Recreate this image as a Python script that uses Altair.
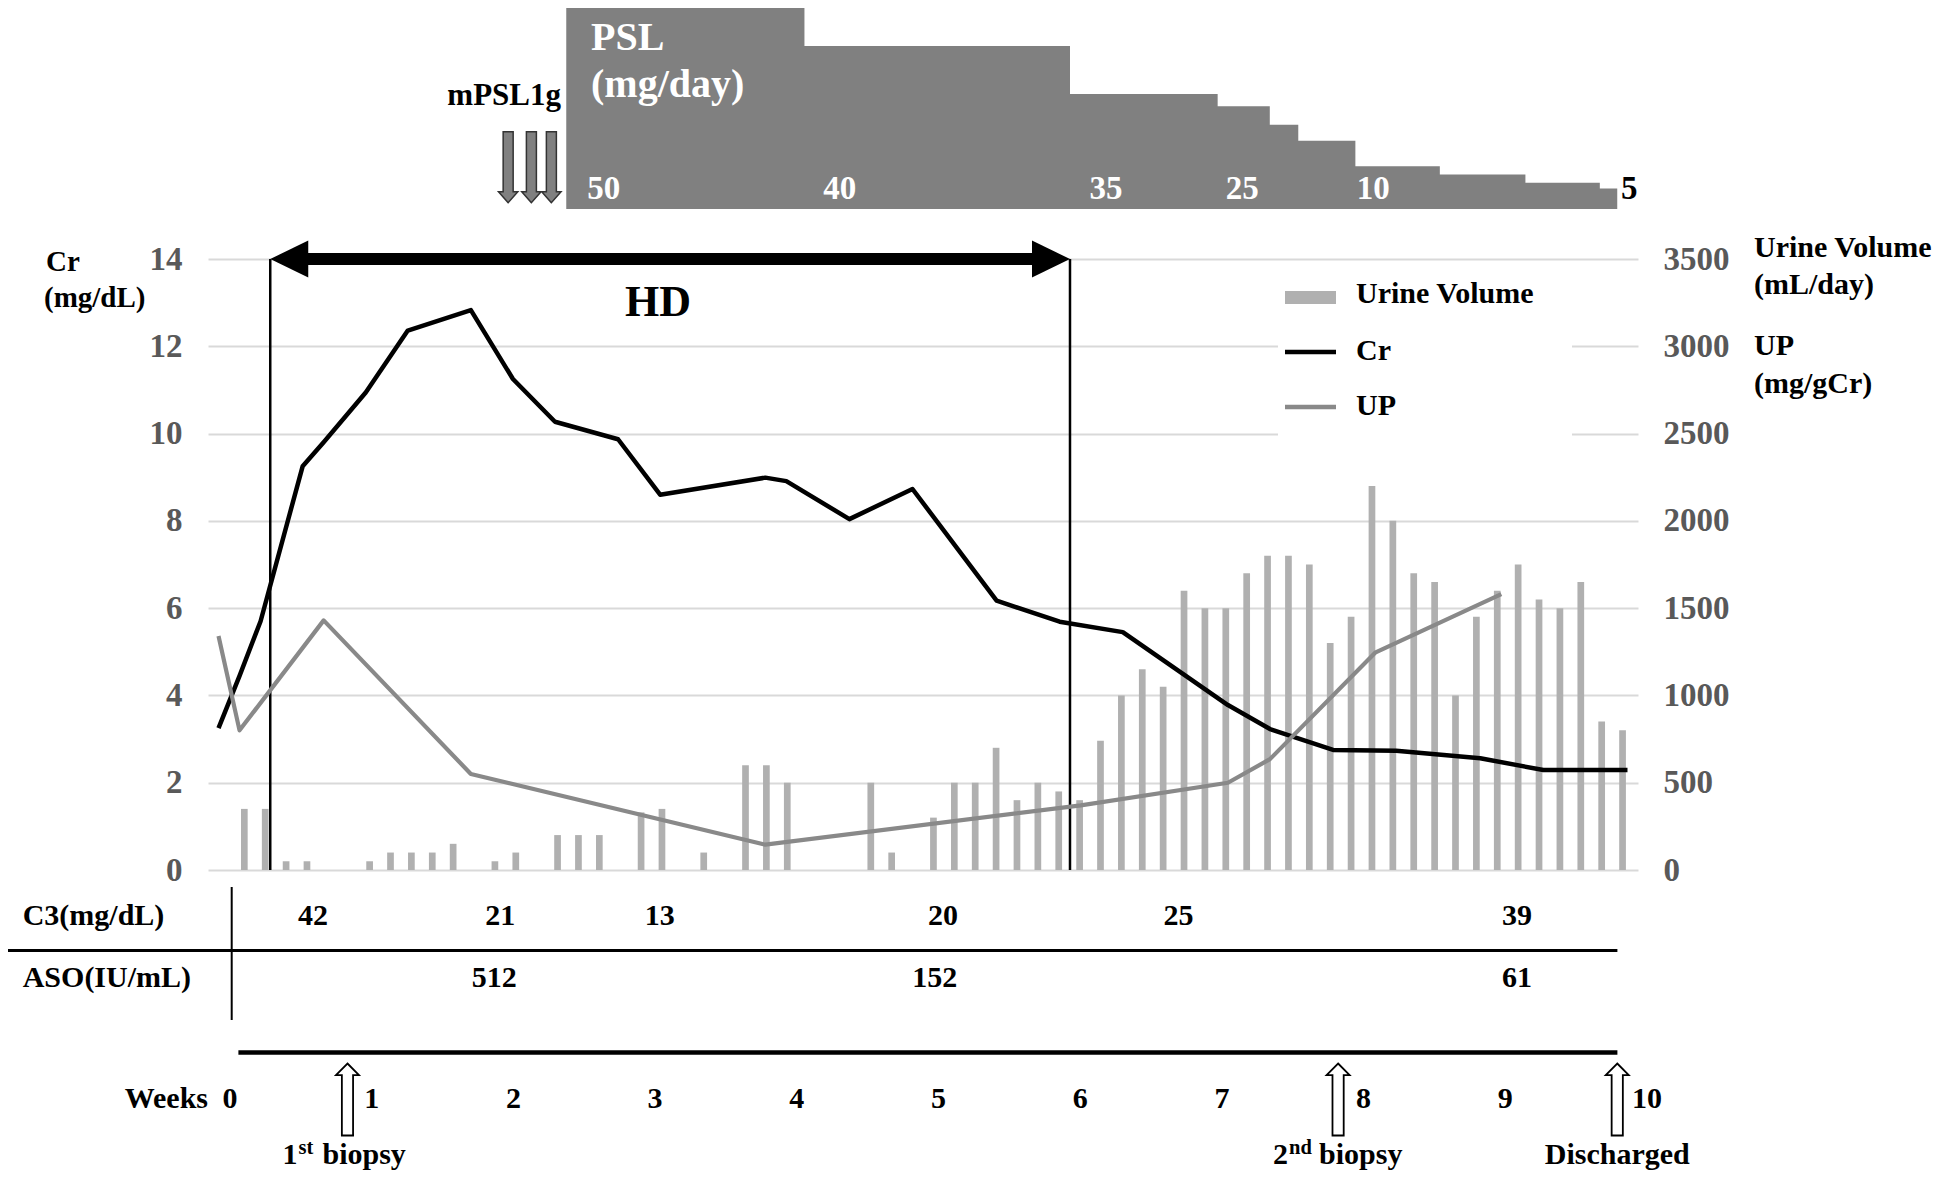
import altair as alt
import pandas as pd

# ---------------- data ----------------
DAY = list(range(68))
URINE_VOLUME = [None, 350, 350, 50, 50, None, None, 50, 100, 100, 100, 150, None, 50, 100, None,
                200, 200, 200, None, 330, 350, None, 100, None, 600, 600, 500, None, None, None, 500,
                100, None, 300, 500, 500, 700, 400, 500, 450, 400, 740, 1000, 1150, 1050, 1600, 1500,
                1500, 1700, 1800, 1800, 1750, 1300, 1450, 2200, 2000, 1700, 1650, 1000, 1450, 1600, 1750,
                1550, 1500, 1650, 850, 800]

CR_DAY = [0, 1, 2, 4, 5, 7, 9, 12, 14, 16, 19, 21, 26, 27, 30, 33, 37, 40, 43, 48, 50, 53, 56, 60, 63, 67]
CR = [3.25, 4.45, 5.7, 9.25, 9.8, 10.94, 12.36, 12.83, 11.25, 10.27, 9.87, 8.6, 8.99, 8.91, 8.04, 8.73,
      6.17, 5.69, 5.45, 3.78, 3.23, 2.75, 2.73, 2.56, 2.29, 2.29]

UP_DAY = [0, 1, 5, 12, 26, 41, 48, 50, 55, 61]
UP = [1340, 800, 1430, 550, 145, 370, 500, 635, 1245, 1580]

LEGEND_NAMES = ["Urine Volume", "Cr", "UP"]

HD_START_DAY = 2.46
HD_END_DAY = 40.49

WEEKS = list(range(11))

PSL_START_WEEK = [2.373, 4.054, 5.928, 6.970, 7.338, 7.539, 7.942, 8.538, 9.142, 9.667]
PSL_END_WEEK = 9.790
PSL_LEVEL = [50, 39.7, 28.0, 25.0, 20.5, 16.6, 10.4, 8.4, 6.4, 5.0]
PSL_LABELS = ["50", "40", "35", "25", "10"]
PSL_LABEL_WEEK = [2.522, 4.186, 6.065, 7.028, 7.951]
PSL_LAST_LABEL = "5"
PSL_LAST_WEEK = 9.817
MPSL_WEEK = [1.963, 2.127, 2.268]

C3_VALUES = ["42", "21", "13", "20", "25", "39"]
C3_WEEK = [0.585, 1.908, 3.033, 5.031, 6.694, 9.082]
ASO_VALUES = ["512", "152", "61"]
ASO_WEEK = [1.864, 4.974, 9.082]

EVENT_WEEK = [0.829, 7.82, 9.79]

# ---------------- layout / style ----------------
W, H = 1430, 611
FONT = "Liberation Serif"
GRAY_TXT = "#595959"
BAR_C = "#b0b0b0"
UP_C = "#898989"
PSL_C = "#808080"
BL = "alphabetic"

xday = alt.Scale(domain=[-0.5, 67.5], nice=False, zero=False)
xweek = alt.Scale(domain=[-22 / 141.7, (W - 22) / 141.7], nice=False, zero=False)
ycr = alt.Scale(domain=[0, 14], nice=False, zero=False)
yml = alt.Scale(domain=[0, 3500], nice=False, zero=False)
ypsl = alt.Scale(domain=[0, 50], range=[-50, -255.3], nice=False, zero=True)

one = pd.DataFrame({"k": [0]})


def label(txt, x, y, size=30, weight="bold", align="left", color="black", baseline=BL):
    return alt.Chart(one).mark_text(text=txt, font=FONT, fontSize=size, fontWeight=weight, align=align,
                                    baseline=baseline, color=color).encode(x=alt.value(x), y=alt.value(y))


def prule(x, x2, y, y2, width, color="black"):
    return alt.Chart(one).mark_rule(color=color, strokeWidth=width).encode(
        x=alt.value(x), x2=alt.value(x2), y=alt.value(y), y2=alt.value(y2))


def wtext(df, y, size=30, align="center", color="black", dx=0, text=None):
    kw = dict(font=FONT, fontSize=size, fontWeight="bold", align=align, baseline=BL, color=color, dx=dx)
    if text is not None:
        return alt.Chart(df).mark_text(text=text, **kw).encode(
            x=alt.X("week:Q", scale=xweek, axis=None), y=alt.value(y))
    return alt.Chart(df).mark_text(**kw).encode(
        x=alt.X("week:Q", scale=xweek, axis=None), y=alt.value(y), text="lab:N")


layers = []

# white box behind legend (interrupts gridlines)
layers.append(alt.Chart(one).mark_rect(color="white").encode(
    x=alt.value(1070), x2=alt.value(1364), y=alt.value(14), y2=alt.value(205)))

# urine volume bars (right axis)
uv_df = pd.DataFrame({"day": DAY, "uv": URINE_VOLUME}).dropna()
layers.append(alt.Chart(uv_df).mark_bar(color=BAR_C, size=6.7).encode(
    x=alt.X("day:Q", scale=xday, axis=None),
    y=alt.Y("uv:Q", scale=yml, axis=alt.Axis(
        orient="right", values=list(range(0, 3501, 500)), format="d", grid=False, domain=False,
        ticks=False, labelFont=FONT, labelFontSize=33, labelFontWeight="bold", labelColor=GRAY_TXT,
        labelPadding=25, labelFlush=False, labelOverlap=False, title=None)),
))

# HD vertical lines
hd_df = pd.DataFrame({"day": [HD_START_DAY, HD_END_DAY]})
layers.append(alt.Chart(hd_df).mark_rule(color="black", strokeWidth=2.5).transform_calculate(
    top="14", bot="0").encode(
    x=alt.X("day:Q", scale=xday, axis=None),
    y=alt.Y("top:Q", scale=ycr, axis=None), y2="bot:Q"))

# Cr line (left axis with grid)
cr_df = pd.DataFrame({"day": CR_DAY, "cr": CR})
layers.append(alt.Chart(cr_df).mark_line(color="black", strokeWidth=4.5, strokeJoin="round").encode(
    x=alt.X("day:Q", scale=xday, axis=None),
    y=alt.Y("cr:Q", scale=ycr, axis=alt.Axis(
        orient="left", values=list(range(0, 15, 2)), format="d", grid=True, gridColor="#d9d9d9",
        gridWidth=1.8, domain=False, ticks=False, labelFont=FONT, labelFontSize=33,
        labelFontWeight="bold", labelColor=GRAY_TXT, labelPadding=26, labelFlush=False,
        labelOverlap=False, title=None)),
))

# UP line
up_df = pd.DataFrame({"day": UP_DAY, "up": UP})
layers.append(alt.Chart(up_df).mark_line(color=UP_C, strokeWidth=4.2, strokeJoin="round").encode(
    x=alt.X("day:Q", scale=xday, axis=None),
    y=alt.Y("up:Q", scale=yml, axis=None)))

# HD double arrow
shaft_df = pd.DataFrame({"s": [HD_START_DAY], "e": [HD_END_DAY]})
layers.append(alt.Chart(shaft_df).mark_rule(color="black", strokeWidth=12, xOffset=20, x2Offset=-20).transform_calculate(
    lvl="14").encode(
    x=alt.X("s:Q", scale=xday, axis=None), x2="e:Q",
    y=alt.Y("lvl:Q", scale=ycr, axis=None)))
for d, path in [(HD_START_DAY, "M0,0L2,-0.97L2,0.97Z"), (HD_END_DAY, "M0,0L-2,-0.97L-2,0.97Z")]:
    layers.append(alt.Chart(pd.DataFrame({"day": [d], "lvl": [14]})).mark_point(
        shape=path, size=1444, filled=True, color="black", opacity=1).encode(
        x=alt.X("day:Q", scale=xday, axis=None),
        y=alt.Y("lvl:Q", scale=ycr, axis=None)))
hd_mid = pd.DataFrame({"day": [(HD_START_DAY + HD_END_DAY) / 2]})
layers.append(alt.Chart(hd_mid).mark_text(text="HD", font=FONT, fontSize=44, fontWeight="bold",
                                          align="center", baseline=BL, dx=-12, color="black").encode(
    x=alt.X("day:Q", scale=xday, axis=None), y=alt.value(57)))

# legend
layers.append(alt.Chart(one).mark_rect(color=BAR_C).encode(
    x=alt.value(1077), x2=alt.value(1128), y=alt.value(32), y2=alt.value(45)))
layers.append(prule(1077, 1128, 93, 93, 4.5, "black"))
layers.append(prule(1077, 1128, 148, 148, 4.5, UP_C))
for name, yy in zip(LEGEND_NAMES, [44, 101, 156]):
    layers.append(label(name, 1148, yy, size=30))

# axis titles
layers.append(label("Cr", -162, 12, size=29))
layers.append(label("(mg/dL)", -164, 48, size=29))
layers.append(label("Urine Volume", 1546, -2, size=30))
layers.append(label("(mL/day)", 1546, 35, size=30))
layers.append(label("UP", 1546, 96, size=30))
layers.append(label("(mg/gCr)", 1546, 134, size=30))

# PSL step block
psl_df = pd.DataFrame({"week": PSL_START_WEEK + [PSL_END_WEEK], "level": PSL_LEVEL + [PSL_LEVEL[-1]]})
layers.append(alt.Chart(psl_df).mark_area(interpolate="step-after", color=PSL_C, opacity=1).encode(
    x=alt.X("week:Q", scale=xweek, axis=None),
    y=alt.Y("level:Q", scale=ypsl, axis=None)))
layers.append(wtext(pd.DataFrame({"week": PSL_LABEL_WEEK, "lab": PSL_LABELS}), -60.4, size=33,
                    align="left", color="white"))
layers.append(wtext(pd.DataFrame({"week": [PSL_LAST_WEEK], "lab": [PSL_LAST_LABEL]}), -60.4, size=33,
                    align="left", color="black"))
layers.append(label("PSL", 383, -209.4, size=40, color="white"))
layers.append(label("(mg/day)", 383, -162, size=40, color="white"))
layers.append(label("mPSL1g", 353, -154, size=31, align="right"))
mpsl_df = pd.DataFrame({"week": MPSL_WEEK})
layers.append(alt.Chart(mpsl_df).mark_point(
    shape="M0,0L-0.965,-1.1L-0.5,-1.1L-0.5,-7.1L0.5,-7.1L0.5,-1.1L0.965,-1.1Z", size=400,
    filled=True, fill=PSL_C, stroke="#333333", strokeWidth=1.5, opacity=1).encode(
    x=alt.X("week:Q", scale=xweek, axis=None), y=alt.value(-56.3)))

# table
layers.append(prule(-206, 1409.4, 691.5, 691.5, 3))
layers.append(prule(23.7, 23.7, 628, 761, 2))
layers.append(prule(30.4, 1409.4, 793.5, 793.5, 4.5))
layers.append(label("C3(mg/dL)", -185.3, 666))
layers.append(label("ASO(IU/mL)", -185.3, 727.7))
layers.append(wtext(pd.DataFrame({"week": C3_WEEK, "lab": C3_VALUES}), 666))
layers.append(wtext(pd.DataFrame({"week": ASO_WEEK, "lab": ASO_VALUES}), 727.7))

# weeks axis
layers.append(label("Weeks", 0, 849, align="right"))
layers.append(wtext(pd.DataFrame({"week": WEEKS, "lab": [str(w) for w in WEEKS]}), 849))

# event arrows
ev_df = pd.DataFrame({"week": EVENT_WEEK})
layers.append(alt.Chart(ev_df).mark_point(
    shape="M0,0L1.15,1.17L0.56,1.17L0.56,7.2L-0.56,7.2L-0.56,1.17L-1.15,1.17Z", size=400,
    filled=True, fill="white", stroke="black", strokeWidth=1.8, opacity=1).encode(
    x=alt.X("week:Q", scale=xweek, axis=None), y=alt.value(804.5)))

EV_BASE = 905
ev_parts = [
    (EVENT_WEEK[0], "1", "st", "biopsy", -25),
    (EVENT_WEEK[1], "2", "nd", "biopsy", -19),
]
for wk, num, sup, word, wdx in ev_parts:
    d = pd.DataFrame({"week": [wk]})
    layers.append(wtext(d, EV_BASE, align="right", dx=-50, text=num))
    layers.append(wtext(d, EV_BASE - 10, size=20.5, align="left", dx=-49, text=sup))
    layers.append(wtext(d, EV_BASE, align="left", dx=wdx, text=word))
layers.append(wtext(pd.DataFrame({"week": [EVENT_WEEK[2]]}), EV_BASE, text="Discharged"))

chart = alt.layer(*layers).resolve_scale(x="independent", y="independent").properties(
    width=W, height=H,
    autosize=alt.AutoSizeParams(type="none"),
    padding={"left": 200, "top": 251, "right": 300, "bottom": 304},
).configure_view(stroke=None)

chart.save("out.html", embed_options={"renderer": "svg", "actions": False})
